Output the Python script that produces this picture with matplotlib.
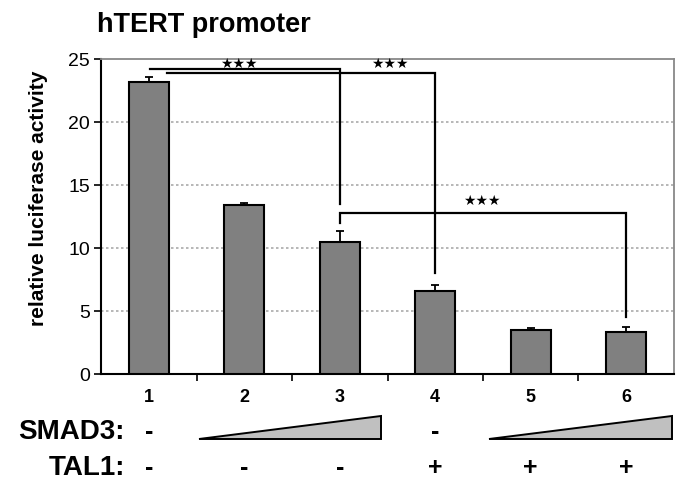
import numpy as np
import matplotlib.pyplot as plt
import matplotlib.transforms as mtransforms

plt.rcParams['font.family'] = ['Liberation Sans', 'DejaVu Sans']

groups = ['1', '2', '3', '4', '5', '6']
values = [23.2, 13.4, 10.45, 6.55, 3.5, 3.35]
errors = [0.35, 0.15, 0.9, 0.5, 0.15, 0.4]
smad3 = ['-', None, None, '-', None, None]
tal1 = ['-', '-', '-', '+', '+', '+']
yticks = [0, 5, 10, 15, 20, 25]

fig = plt.figure(figsize=(6.83, 4.81), dpi=100)
ax = fig.add_axes([0.1479, 0.2204, 0.8389, 0.6549])

x = np.arange(len(groups))
ax.bar(x, values, width=0.42, color='#808080', edgecolor='black', linewidth=1.5, zorder=3)
ax.errorbar(x, values, yerr=[np.zeros(len(errors)), errors], fmt='none',
            ecolor='black', elinewidth=1.3, capsize=3, capthick=1.3, zorder=4)

ax.set_xlim(-0.5, 5.5)
ax.set_ylim(0, 25)
ax.set_yticks(yticks)
ax.set_yticklabels([str(t) for t in yticks], fontsize=14)
ax.set_xticks(x)
ax.set_xticklabels(groups, fontsize=13, fontweight='bold')
ax.tick_params(axis='x', which='major', length=0, pad=10)
ax.set_xticks(x[:-1] + 0.5, minor=True)
ax.tick_params(axis='x', which='minor', length=5, width=1.2, direction='out')
ax.tick_params(axis='y', length=5, width=1.2, pad=3)

for yv in yticks[1:-1]:
    ax.axhline(yv, color='#aaaaaa', linestyle=(0, (1.5, 1.5)), linewidth=1.2, zorder=1)

ax.spines['left'].set_linewidth(1.5)
ax.spines['bottom'].set_linewidth(1.5)
ax.spines['top'].set_color('#888888')
ax.spines['top'].set_linewidth(1.3)
ax.spines['right'].set_color('#888888')
ax.spines['right'].set_linewidth(1.3)

ax.set_ylabel('relative luciferase activity', fontsize=15, fontweight='bold')
ax.yaxis.set_label_coords(-0.092, 0.56)
fig.text(0.142, 0.948, 'hTERT promoter', fontsize=19.5, fontweight='bold', ha='left', va='center')

# significance brackets
lk = dict(color='black', linewidth=1.6, zorder=5, solid_joinstyle='miter')
ax.plot([0.01, 2, 2], [24.2, 24.2, 13.5], **lk)
ax.plot([0.19, 3, 3], [23.9, 23.9, 8.0], **lk)
ax.plot([2, 2, 5, 5], [12.0, 12.75, 12.75, 4.55], **lk)
for sx, sy in [(0.94, 24.68), (2.52, 24.68), (3.49, 13.85)]:
    ax.text(sx, sy, '★★★', fontsize=10, ha='center', va='center',
            family='DejaVu Sans', zorder=6)

# treatment rows
trans = mtransforms.blended_transform_factory(ax.transData, ax.transAxes)
y_smad, y_tal = -0.18, -0.295
ax.text(-0.25, y_smad, 'SMAD3:', transform=trans, ha='right', va='center',
        fontsize=20, fontweight='bold')
ax.text(-0.25, y_tal, 'TAL1:', transform=trans, ha='right', va='center',
        fontsize=20, fontweight='bold')
for i, s in enumerate(smad3):
    if s is not None:
        ax.text(x[i], y_smad, s, transform=trans, ha='center', va='center',
                fontsize=18, fontweight='bold')
for i, s in enumerate(tal1):
    ax.text(x[i], y_tal, s, transform=trans, ha='center', va='center',
            fontsize=18, fontweight='bold')

for x0, x1 in [(0.53, 2.43), (3.56, 5.48)]:
    tri = plt.Polygon([[x0, -0.206], [x1, -0.206], [x1, -0.133]], closed=True,
                      facecolor='#c0c0c0', edgecolor='black', linewidth=1.4,
                      transform=trans, clip_on=False)
    ax.add_patch(tri)

fig.savefig('out.png', dpi=100)
